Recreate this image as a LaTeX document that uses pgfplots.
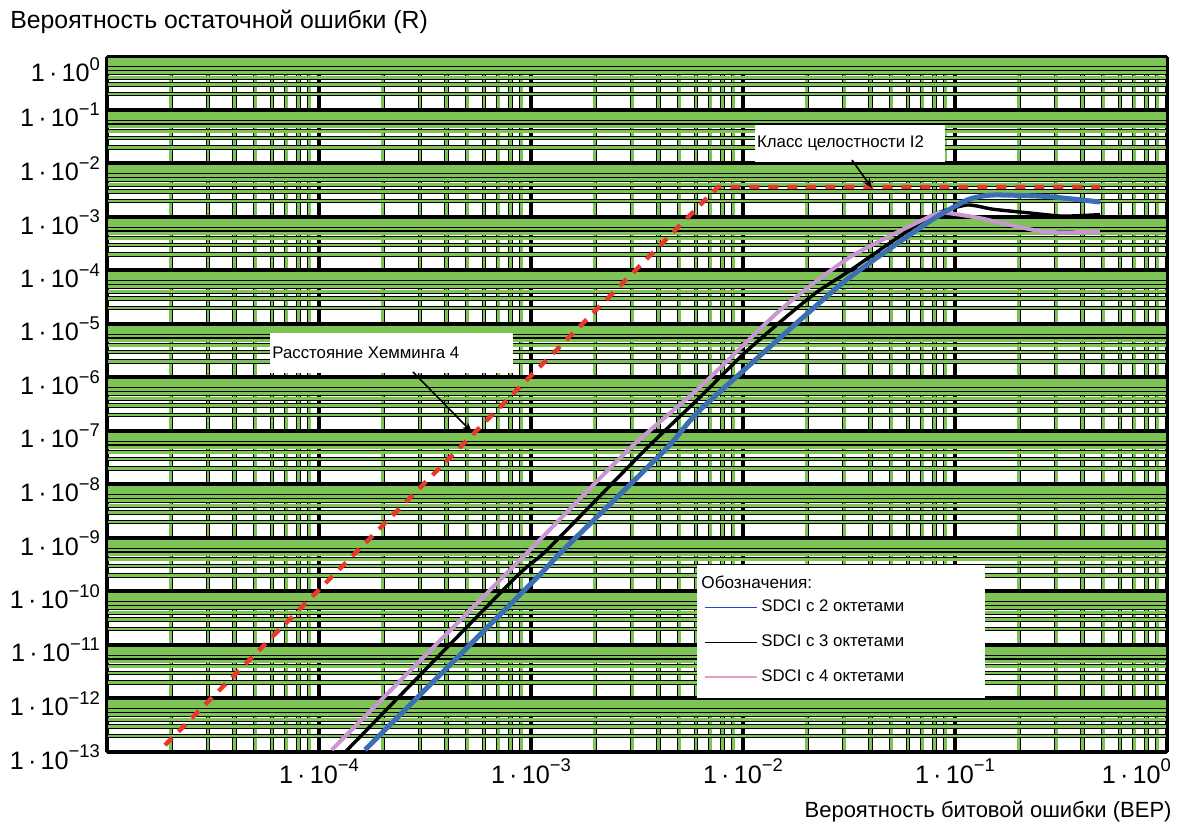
\documentclass[border=0pt]{standalone}
\usepackage{fontspec}
\setmainfont{Liberation Sans}
\usepackage{pgfplots}
\pgfplotsset{compat=1.18}
\usetikzlibrary{arrows.meta}
\definecolor{gridgreen}{RGB}{125,196,84}
\definecolor{redline}{RGB}{232,56,44}
\definecolor{curveblue}{RGB}{60,110,180}
\definecolor{curvepink}{RGB}{200,150,210}
\definecolor{legblue}{RGB}{40,70,200}
\definecolor{legpink}{RGB}{225,160,200}
\newcommand{\pw}[1]{1\,·\,10\raisebox{0.45em}{\fontsize{9.2}{10}\selectfont #1}}
\begin{document}
\begin{tikzpicture}
\begin{axis}[
  xmode=log, ymode=log,
  xmin=1e-5, xmax=1, ymin=1e-13, ymax=1,
  scale only axis, width=530pt, height=347.75pt,
  clip mode=individual,
  axis line style={black, line width=0.9pt},
  grid=both,
  major grid style={draw=black, line width=1.8pt},
  minor grid style={draw=black, line width=0.35pt, double=gridgreen, double distance=1.4pt},
  major tick length=0pt, minor tick length=0pt,
  xtick={1e-5,1e-4,1e-3,1e-2,1e-1,1},
  xticklabels={,\pw{−4},\pw{−3},\pw{−2},\pw{−1},\makebox[0pt][r]{\pw{0}\kern-2pt}},
  ytick={1e-13,1e-12,1e-11,1e-10,1e-9,1e-8,1e-7,1e-6,1e-5,1e-4,1e-3,1e-2,1e-1,1},
  yticklabels={\pw{−13},\pw{−12},\pw{−11},\pw{−10},\pw{−9},\pw{−8},\pw{−7},\pw{−6},\pw{−5},\pw{−4},\pw{−3},\pw{−2},\pw{−1},\raisebox{-4pt}[\height][\depth]{\pw{0}}},
  ticklabel style={font=\fontsize{12.6}{14}\selectfont},
  yticklabel style={yshift=-2.5pt},
  legend cell align=left,
  legend style={at={(rel axis cs:0.563,0.224)}, anchor=north west, draw=none, fill=none,
    font=\fontsize{8.4}{10}\selectfont, row sep=6pt, inner sep=0pt, outer sep=0pt,
    nodes={inner sep=2pt}},
  legend image code/.code={\draw[#1] (0pt,0pt) -- (26pt,0pt);},
]
% Hamming distance 4
\addplot[redline, line width=2.2pt, dash pattern=on 5pt off 4.5pt, forget plot]
  coordinates {(1.88e-5,1.35e-13) (7.62e-3,3.64e-3) (0.483,3.64e-3)};
% SDCI 3 octets (black)
\addplot[black, line width=1.7pt, smooth, tension=0.35, forget plot] coordinates {
 (1.33e-4,1.0e-13) (8.22e-4,1.64e-10) (1.19e-3,5.97e-10) (3.45e-3,4.42e-8)
 (6.27e-3,4.3e-7) (1.0e-2,2.7e-6) (1.50e-2,1.1e-5) (2.2e-2,3.8e-5) (3.20e-2,1.0e-4)
 (5.0e-2,3.4e-4) (7.87e-2,1.1e-3) (0.114,1.68e-3) (0.151,1.4e-3) (0.226,1.19e-3)
 (0.323,1.04e-3) (0.483,1.11e-3)};
% SDCI 4 octets (pink)
\addplot[curvepink, line width=2pt, smooth, tension=0.35, forget plot] coordinates {
 (1.15e-4,1.10e-13) (7.14e-4,1.64e-10) (9.89e-4,5.97e-10) (2.87e-3,4.42e-8)
 (6.27e-3,6.64e-7) (1.50e-2,1.83e-5) (3.20e-2,1.79e-4) (7.87e-2,1.09e-3)
 (9.16e-2,1.19e-3) (0.131,9.57e-4) (0.192,6.79e-4) (0.272,5.25e-4) (0.483,5.25e-4)};
% SDCI 2 octets (blue)
\addplot[curveblue, line width=2.5pt, smooth, tension=0.35, forget plot] coordinates {
 (1.65e-4,1.10e-13) (1.04e-3,1.64e-10) (1.42e-3,5.97e-10) (4.29e-3,4.42e-8)
 (6.27e-3,2.47e-7) (1.86e-2,1.19e-5) (3.20e-2,7.56e-5) (7.38e-2,7.73e-4)
 (0.114,2.08e-3) (0.151,2.58e-3) (0.272,2.42e-3) (0.483,1.91e-3)};
% white boxes
\fill[white] (rel axis cs:0.557,0.078) rectangle (rel axis cs:0.828,0.269);
\fill[white] (rel axis cs:0.611,0.848) rectangle (rel axis cs:0.791,0.902);
\fill[white] (rel axis cs:0.1538,0.5449) rectangle (rel axis cs:0.383,0.6025);
\node[anchor=west, inner sep=0pt, font=\fontsize{8.6}{10}\selectfont] at (rel axis cs:0.5604,0.2444) {Обозначения:};
\node[anchor=west, inner sep=0pt, font=\fontsize{8.4}{10}\selectfont] at (rel axis cs:0.613,0.8756) {Класс целостности I2};
\node[anchor=west, inner sep=0pt, font=\fontsize{8.4}{10}\selectfont] at (rel axis cs:0.1557,0.5737) {Расстояние Хемминга 4};
\draw[black, line width=0.8pt, -{Stealth[length=5pt,width=4pt]}] (rel axis cs:0.7028,0.8512) -- (rel axis cs:0.7217,0.8109);
\draw[black, line width=0.8pt, -{Stealth[length=5pt,width=4pt]}] (rel axis cs:0.2887,0.5464) -- (rel axis cs:0.3443,0.4601);
% legend entries
\addlegendimage{legblue, line width=0.7pt}
\addlegendentry{SDCI с 2 октетами}
\addlegendimage{black, line width=0.8pt}
\addlegendentry{SDCI с 3 октетами}
\addlegendimage{legpink, line width=0.7pt}
\addlegendentry{SDCI с 4 октетами}
% axis labels
\node[anchor=west, inner sep=0pt, font=\fontsize{12.4}{14}\selectfont] at (rel axis cs:-0.0915,1.0496) {Вероятность остаточной ошибки (R)};
\node[anchor=east, inner sep=0pt, font=\fontsize{11}{13}\selectfont] at (rel axis cs:1.0047,-0.0863) {Вероятность битовой ошибки (BEP)};
% page extent
\path (rel axis cs:-0.1009,-0.1122) rectangle (rel axis cs:1.0208,1.0813);
\end{axis}
\end{tikzpicture}
\end{document}
